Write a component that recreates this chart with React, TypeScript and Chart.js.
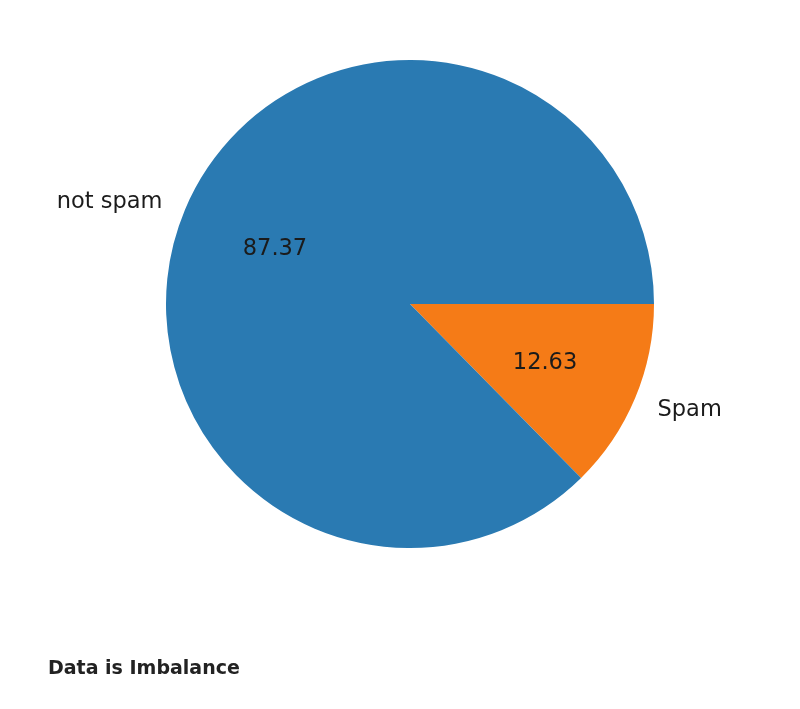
import React, { useEffect, useRef } from "react";
import { Chart, registerables } from "chart.js";

Chart.register(...registerables);

// Data (matplotlib order: counter-clockwise from 3 o'clock)
const categories = ["not spam", "Spam"];
const counts = [4516, 653];
const colors = ["#2a7ab2", "#f57b17"];
const titleText = "Data is Imbalance";

const total = counts.reduce((a, b) => a + b, 0);
const pctLabels = counts.map((c) => ((c / total) * 100).toFixed(2));

// Chart.js draws clockwise, so reverse the order and start at 3 o'clock.
const chartLabels = [...categories].reverse();
const chartValues = [...counts].reverse();
const chartColors = [...colors].reverse();
const chartPcts = [...pctLabels].reverse();

const labelPlugin = {
  id: "pieLabels",
  afterDatasetsDraw(chart: any) {
    const ctx = chart.ctx;
    const meta = chart.getDatasetMeta(0);
    ctx.save();
    ctx.fillStyle = "#1b1b1b";
    ctx.font = "22.5px 'DejaVu Sans'";
    meta.data.forEach((arc: any, i: number) => {
      const { x, y, startAngle, endAngle, outerRadius } = arc.getProps(
        ["x", "y", "startAngle", "endAngle", "outerRadius"],
        true
      );
      const mid = (startAngle + endAngle) / 2;
      const cx = Math.cos(mid);
      const cy = Math.sin(mid);
      const off = 8;
      // pct label at 0.6 r
      ctx.textAlign = "center";
      ctx.textBaseline = "alphabetic";
      ctx.fillText(chartPcts[i], x + 0.6 * outerRadius * cx, y + 0.6 * outerRadius * cy + off);
      // category label at 1.1 r
      ctx.textAlign = cx < 0 ? "right" : "left";
      ctx.fillText(chartLabels[i], x + 1.1 * outerRadius * cx, y + 1.1 * outerRadius * cy + off);
    });
    ctx.restore();
  },
};

export default function App() {
  const ref = useRef<HTMLCanvasElement | null>(null);
  useEffect(() => {
    if (!ref.current) return;
    const chart = new Chart(ref.current, {
      type: "pie",
      data: {
        labels: chartLabels,
        datasets: [
          {
            data: chartValues,
            backgroundColor: chartColors,
            borderWidth: 0,
          },
        ],
      },
      options: {
        animation: false,
        responsive: true,
        maintainAspectRatio: false,
        rotation: 90,
        layout: { padding: { left: 166, right: 146, top: 60, bottom: 161 } },
        plugins: {
          legend: { display: false },
          tooltip: { enabled: false },
        },
      },
      plugins: [labelPlugin],
    });
    return () => chart.destroy();
  }, []);

  return (
    <div style={{ position: "fixed", left: 0, top: 0, width: 800, height: 709, background: "#fff" }}>
      <canvas ref={ref} />
      <div
        style={{
          position: "absolute",
          left: 48,
          top: 658,
          font: "bold 19px 'DejaVu Sans'",
          lineHeight: "1",
          color: "#222",
          whiteSpace: "nowrap",
        }}
      >
        {titleText}
      </div>
    </div>
  );
}
